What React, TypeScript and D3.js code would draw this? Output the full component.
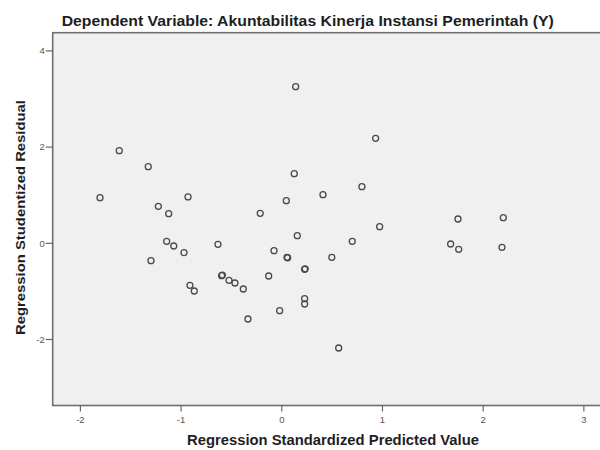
import React from "react";
import * as d3 from "d3";

const predicted: number[] = [
  -1.614, -1.326, -1.805, -0.931, -1.226, -1.123, -1.143, -1.073, -0.971, -1.299,
  -0.634, -0.597, -0.59, -0.524, -0.465, -0.912, -0.869, 0.138, 0.932, 0.124,
  0.796, 0.409, 0.045, -0.214, 0.972, 0.154, 0.7, -0.077, 0.052, 0.058,
  0.497, 0.227, 0.232, -0.382, -0.13, 0.227, 0.227, -0.021, -0.336, 0.565,
  1.75, 2.2, 1.677, 1.757, 2.187,
];
const residual: number[] = [
  1.925, 1.593, 0.948, 0.963, 0.769, 0.615, 0.042, -0.056, -0.195, -0.362,
  -0.021, -0.674, -0.66, -0.769, -0.825, -0.873, -0.992, 3.256, 2.183, 1.447,
  1.177, 1.01, 0.886, 0.624, 0.345, 0.158, 0.042, -0.154, -0.291, -0.3,
  -0.291, -0.541, -0.53, -0.95, -0.68, -1.152, -1.262, -1.401, -1.574, -2.177,
  0.505, 0.532, -0.015, -0.125, -0.083,
];
const xTicks: number[] = [-2, -1, 0, 1, 2, 3];
const yTicks: number[] = [4, 2, 0, -2];

const titleText = "Dependent Variable: Akuntabilitas Kinerja Instansi Pemerintah (Y)";
const xTitle = "Regression Standardized Predicted Value";
const yTitle = "Regression Studentized Residual";

export default function App() {
  const W = 600;
  const H = 450;
  const left = 52.7;
  const right = 604;
  const top = 32.7;
  const bottom = 405.5;

  const x = d3.scaleLinear().domain([-2.275, 3.2]).range([left, right]);
  const y = d3.scaleLinear().domain([-3.372, 4.378]).range([bottom, top]);

  const font = "'Liberation Sans', Arial, sans-serif";

  return (
    <svg
      width={W}
      height={H}
      style={{ position: "absolute", left: 0, top: 0, background: "#fff" }}
    >
      <rect x={0} y={0} width={W} height={H} fill="#fff" />
      <rect
        x={left}
        y={top}
        width={right - left}
        height={bottom - top}
        fill="#f0f0f0"
        stroke="#6e6e6e"
        strokeWidth={1.6}
      />
      {yTicks.map((t) => (
        <g key={"y" + t}>
          <line x1={left - 7} x2={left} y1={y(t)} y2={y(t)} stroke="#666" strokeWidth={1.2} />
          <text
            x={left - 8}
            y={y(t)}
            dy="0.35em"
            textAnchor="end"
            fontFamily={font}
            fontSize={9.5}
            fill="#555"
          >
            {t}
          </text>
        </g>
      ))}
      {xTicks.map((t) => (
        <g key={"x" + t}>
          <line x1={x(t)} x2={x(t)} y1={bottom} y2={bottom + 6} stroke="#666" strokeWidth={1.2} />
          <text
            x={x(t)}
            y={bottom + 17}
            textAnchor="middle"
            fontFamily={font}
            fontSize={9.5}
            fill="#555"
          >
            {t}
          </text>
        </g>
      ))}
      {predicted.map((p, i) => (
        <circle
          key={i}
          cx={x(p)}
          cy={y(residual[i])}
          r={3}
          fill="none"
          stroke="#4a4a4a"
          strokeWidth={1.3}
        />
      ))}
      <text
        x={61.7}
        y={26}
        fontFamily={font}
        fontWeight="bold"
        fontSize={15.5}
        fill="#1e1e1e"
        textLength={492}
        lengthAdjust="spacingAndGlyphs"
      >
        {titleText}
      </text>
      <text
        x={187}
        y={445}
        fontFamily={font}
        fontWeight="bold"
        fontSize={14.5}
        fill="#1e1e1e"
        textLength={292}
        lengthAdjust="spacingAndGlyphs"
      >
        {xTitle}
      </text>
      <text
        transform={`translate(25,335) rotate(-90)`}
        x={0}
        y={0}
        fontFamily={font}
        fontWeight="bold"
        fontSize={13.5}
        fill="#1e1e1e"
        textLength={235}
        lengthAdjust="spacingAndGlyphs"
      >
        {yTitle}
      </text>
    </svg>
  );
}
